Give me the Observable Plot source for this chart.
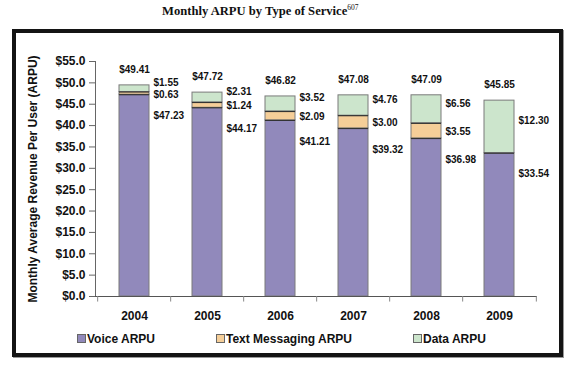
<!DOCTYPE html>
<html>
<head>
<meta charset="utf-8">
<script src="https://cdn.jsdelivr.net/npm/d3@7"></script>
<script src="https://cdn.jsdelivr.net/npm/@observablehq/plot@0.6"></script>
<style>
  html, body { margin: 0; padding: 0; background: #fff; }
  #wrap { position: relative; width: 576px; height: 366px; overflow: hidden; }
  #title { position: absolute; left: 162px; top: 4px; text-align: left; white-space: nowrap;
    font-family: "Liberation Serif", "Times New Roman", serif; font-weight: bold; font-size: 12.6px; color: #111; }
  #title sup { font-size: 7.5px; font-weight: normal; vertical-align: 5px; line-height: 0; }
  #frame { position: absolute; left: 12px; top: 29px; width: 543px; height: 320px;
    border: 4px solid #141414; box-shadow: 1px 1px 0 #999; }
  #chart { position: absolute; left: 0; top: 0; }
  .legend { position: absolute; top: 332px; font-family: "Liberation Sans", Arial, sans-serif;
    font-weight: bold; font-size: 12px; color: #111; white-space: nowrap; line-height: 14px; }
  .legend i { display: inline-block; width: 7px; height: 7px; border: 1px solid #666; margin-right: 1px; vertical-align: 0px; }
</style>
</head>
<body>
<div id="wrap">
  <div id="title">Monthly ARPU by Type of Service<sup>607</sup></div>
  <div id="frame"></div>
  <div id="chart"></div>
</div>
<script>
const years = ["2004", "2005", "2006", "2007", "2008", "2009"];
const voiceArpu = [47.23, 44.17, 41.21, 39.32, 36.98, 33.54];
const textArpu = [0.63, 1.24, 2.09, 3.00, 3.55, 0];
const dataArpu = [1.55, 2.31, 3.52, 4.76, 6.56, 12.30];
const totals = [49.41, 47.72, 46.82, 47.08, 47.09, 45.85];
const seriesNames = ["Voice ARPU", "Text Messaging ARPU", "Data ARPU"];
const seriesColors = ["#9189bb", "#f5ce98", "#cce5cc"];
const yTicks = [0, 5, 10, 15, 20, 25, 30, 35, 40, 45, 50, 55];
const yLabel = "Monthly Average Revenue Per User (ARPU)";

const values = [voiceArpu, textArpu, dataArpu];
const rows = [];
years.forEach((year, i) => {
  let base = 0;
  seriesNames.forEach((s, k) => {
    const v = values[k][i];
    rows.push({year, series: s, k, value: v, y1: base, y2: base + v});
    base += v;
  });
});
const segs = rows.filter(d => d.value > 0);
const totalRows = years.map((year, i) => ({year, total: totals[i]}));

const W = 576, H = 366, mL = 95, mR = 39, mT = 61, mB = 70;
const step = (W - mL - mR) / years.length;
const fmt = v => "$" + v.toFixed(2);
const font = "Liberation Sans, Arial, sans-serif";
const lblSize = 10;

const plot = Plot.plot({
  width: W, height: H,
  marginLeft: mL, marginRight: mR, marginTop: mT, marginBottom: mB,
  style: {background: "transparent", fontFamily: font, color: "#111"},
  x: {domain: years, paddingInner: 0.59, paddingOuter: 0.295, axis: null},
  y: {domain: [0, 55], axis: null},
  color: {domain: seriesNames, range: seriesColors},
  marks: [
    Plot.rectY(segs, {x: "year", y1: "y1", y2: "y2", fill: "series", stroke: "#7a7a7a", strokeWidth: 1}),
    Plot.tickY(segs.filter(d => d.k < 2), {x: "year", y: "y2", stroke: "#333", strokeWidth: 1.2}),
    Plot.frame({anchor: "left", stroke: "#666"}),
    Plot.ruleY([0], {stroke: "#555"}),
    Plot.axisY({ticks: yTicks, tickFormat: d => "$" + d.toFixed(1), tickSize: 6, tickPadding: 4,
      fontSize: 12, fontWeight: "bold", stroke: "#666", label: null}),
    Plot.axisX({tickSize: 0, tickPadding: 15, fontSize: 12, fontWeight: "bold", label: null}),
    Plot.ruleX(years, {x: d => d, dx: -step / 2, y1: 0, y2: -1.3, stroke: "#888"}),
    Plot.ruleX([years[years.length - 1]], {x: d => d, dx: step / 2, y1: 0, y2: -1.3, stroke: "#888"}),
    Plot.text(totalRows, {x: "year", y: "total", text: d => fmt(d.total), dy: -16,
      fontSize: lblSize, fontWeight: "bold", fill: "#111"}),
    Plot.text(segs.filter(d => d.k === 0), {x: "year", y: "y2", text: d => fmt(d.value), dy: 21, dx: 19,
      textAnchor: "start", fontSize: lblSize, fontWeight: "bold", fill: "#111"}),
    Plot.text(segs.filter(d => d.k === 1), {x: "year", y: d => (d.y1 + d.y2) / 2, text: d => fmt(d.value), dx: 19, dy: 1,
      textAnchor: "start", fontSize: lblSize, fontWeight: "bold", fill: "#111"}),
    Plot.text(segs.filter(d => d.k === 2), {x: "year", y: d => (d.y1 + d.y2) / 2, text: d => fmt(d.value), dx: 19, dy: -6,
      textAnchor: "start", fontSize: lblSize, fontWeight: "bold", fill: "#111"}),
    Plot.text([yLabel], {frameAnchor: "left", dx: -62, rotate: -90, text: d => d, textAnchor: "middle",
      fontSize: 12, fontWeight: "bold", fill: "#111"})
  ]
});
document.getElementById("chart").appendChild(plot);

const legendX = [77, 216, 413];
const wrap = document.getElementById("wrap");
seriesNames.forEach((s, k) => {
  const el = document.createElement("div");
  el.className = "legend";
  el.style.left = legendX[k] + "px";
  const sw = document.createElement("i");
  sw.style.background = seriesColors[k];
  el.appendChild(sw);
  el.appendChild(document.createTextNode(s));
  wrap.appendChild(el);
});
</script>
</body>
</html>
